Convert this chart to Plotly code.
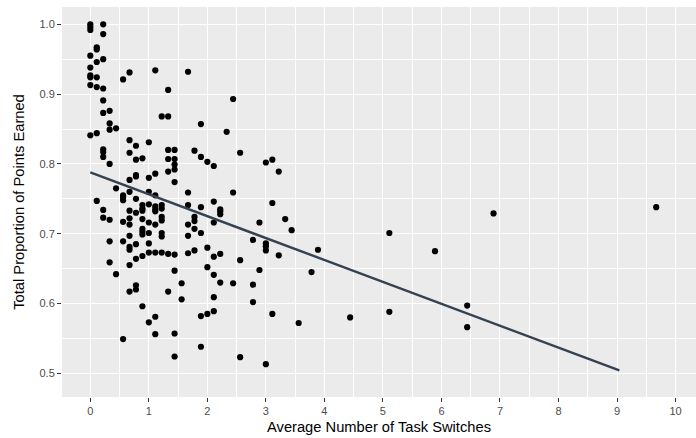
import plotly.graph_objects as go

# Average number of task switches (x) and total proportion of points earned (y)
switches = (
    [0.0] * 9 + [0.11] * 7 + [0.22] * 11 + [0.33] * 7 + [0.44] * 3 + [0.56] * 7
    + [0.67] * 13 + [0.78] * 10 + [0.89] * 10 + [1.0] * 9 + [1.11] * 10 + [1.22] * 8
    + [1.33] * 7 + [1.44] * 9 + [1.56] * 2 + [1.67] * 6 + [1.78] * 5 + [1.89] * 6
    + [2.0] * 4 + [2.11] * 7 + [2.22] * 5 + [2.33] * 1 + [2.44] * 3 + [2.56] * 3
    + [2.78] * 3 + [2.89] * 2 + [3.0] * 5 + [3.11] * 3 + [3.22] * 2 + [3.33] * 1
    + [3.44] * 1 + [3.56] * 1 + [3.78] * 1 + [3.89] * 1 + [4.44] * 1 + [5.11] * 2
    + [5.89] * 1 + [6.44] * 2 + [6.89] * 1 + [9.67] * 1
)
points = [
    1.000, 0.996, 0.992, 0.955, 0.938, 0.927, 0.924, 0.913, 0.841,
    0.967, 0.964, 0.946, 0.924, 0.910, 0.844, 0.747,
    1.000, 0.986, 0.950, 0.908, 0.891, 0.873, 0.821, 0.817, 0.810, 0.734, 0.723,
    0.876, 0.858, 0.849, 0.800, 0.720, 0.689, 0.659,
    0.851, 0.765, 0.642,
    0.921, 0.755, 0.752, 0.748, 0.717, 0.689, 0.549,
    0.931, 0.834, 0.816, 0.777, 0.760, 0.733, 0.722, 0.713, 0.697, 0.681, 0.677, 0.655, 0.617,
    0.826, 0.806, 0.784, 0.782, 0.750, 0.730, 0.685, 0.664, 0.626, 0.620,
    0.808, 0.741, 0.736, 0.733, 0.721, 0.707, 0.703, 0.699, 0.668, 0.596,
    0.831, 0.780, 0.760, 0.742, 0.716, 0.701, 0.686, 0.673, 0.573,
    0.934, 0.786, 0.755, 0.739, 0.735, 0.732, 0.713, 0.673, 0.581, 0.556,
    0.868, 0.741, 0.736, 0.724, 0.719, 0.701, 0.696, 0.673,
    0.906, 0.868, 0.820, 0.807, 0.789, 0.671, 0.617,
    0.820, 0.807, 0.799, 0.792, 0.774, 0.670, 0.647, 0.557, 0.524,
    0.629, 0.606,
    0.932, 0.759, 0.741, 0.713, 0.697, 0.672,
    0.819, 0.724, 0.718, 0.707, 0.676,
    0.857, 0.810, 0.738, 0.701, 0.582, 0.538,
    0.803, 0.680, 0.652, 0.585,
    0.797, 0.746, 0.716, 0.667, 0.641, 0.609, 0.589,
    0.735, 0.732, 0.728, 0.671, 0.630,
    0.846,
    0.893, 0.759, 0.629,
    0.816, 0.662, 0.523,
    0.691, 0.627, 0.602,
    0.716, 0.648,
    0.802, 0.686, 0.682, 0.676, 0.513,
    0.806, 0.744, 0.585,
    0.789, 0.669,
    0.721,
    0.705,
    0.572,
    0.645,
    0.677,
    0.580,
    0.701, 0.588,
    0.675,
    0.597, 0.566,
    0.729,
    0.738,
]

# Fitted regression line end points
fit_x = [0.0, 9.04]
fit_y = [0.788, 0.504]

x_ticks = [0, 1, 2, 3, 4, 5, 6, 7, 8, 9, 10]
y_ticks = [0.5, 0.6, 0.7, 0.8, 0.9, 1.0]
y_tick_labels = ["0.5", "0.6", "0.7", "0.8", "0.9", "1.0"]

fig = go.Figure()
fig.add_trace(go.Scatter(
    x=switches, y=points, mode="markers",
    marker=dict(color="black", size=6.2, line=dict(width=0)),
    showlegend=False, hoverinfo="skip",
))
fig.add_trace(go.Scatter(
    x=fit_x, y=fit_y, mode="lines",
    line=dict(color="#35424f", width=2.4),
    showlegend=False, hoverinfo="skip",
))

axis_common = dict(
    showgrid=True, gridcolor="white", gridwidth=1.1,
    zeroline=False, showline=False,
    ticks="outside", ticklen=4, tickwidth=1, tickcolor="#333333",
    tickfont=dict(family="Liberation Sans, Arial, sans-serif", size=11, color="#4D4D4D"),
    title_font=dict(family="Liberation Sans, Arial, sans-serif", size=14.7, color="black"),
)

fig.update_layout(
    width=696, height=438,
    margin=dict(l=62, r=0, t=7, b=41),
    paper_bgcolor="white", plot_bgcolor="#EBEBEB",
    xaxis=dict(
        range=[-0.484, 10.35], tickvals=x_ticks,
        title=dict(text="Average Number of Task Switches", standoff=5),
        minor=dict(tick0=0.5, dtick=1, showgrid=True, gridcolor="white", gridwidth=0.55, ticks=""),
        **axis_common,
    ),
    yaxis=dict(
        range=[0.466, 1.0248], tickvals=y_ticks, ticktext=y_tick_labels,
        title=dict(text="Total Proportion of Points Earned", standoff=11),
        minor=dict(tick0=0.55, dtick=0.1, showgrid=True, gridcolor="white", gridwidth=0.55, ticks=""),
        **axis_common,
    ),
)

fig.write_html("out.html")
